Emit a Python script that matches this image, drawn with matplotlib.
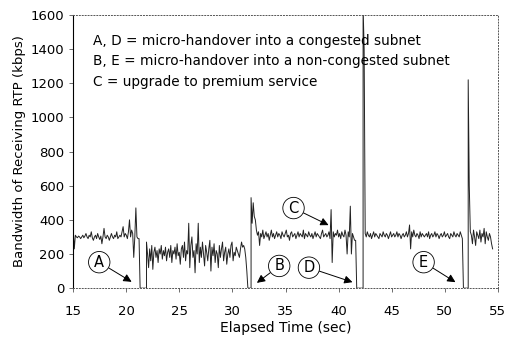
import numpy as np
import matplotlib
matplotlib.use("Agg")
import matplotlib.pyplot as plt

plt.rcParams['font.family'] = ['DejaVu Sans']

# segments of the RTP bandwidth trace (kbps), evenly sampled between start/end times
seg1_span = (15.0, 21.2)
seg1 = [340, 230, 310, 300, 295, 305, 300, 290, 300, 310, 295, 305, 320, 300, 290,
        310, 300, 330, 295, 280, 300, 310, 290, 320, 300, 285, 305, 260, 300, 350,
        300, 290, 310, 300, 280, 300, 320, 300, 290, 310, 300, 330, 290, 300, 310,
        300, 330, 360, 300, 320, 310, 290, 330, 400, 300, 340, 320, 180, 300, 470,
        300, 290, 290]

seg2_span = (21.9, 31.35)
seg2 = [270, 200, 120, 230, 160, 250, 110, 210, 240, 180, 220, 150, 230, 200, 250,
        170, 220, 190, 240, 160, 210, 230, 180, 250, 150, 220, 200, 240, 170, 260,
        190, 210, 140, 230, 250, 180, 270, 160, 220, 200, 380, 120, 250, 300, 180,
        220, 90, 260, 200, 380, 150, 240, 180, 270, 200, 130, 250, 210, 160, 230,
        280, 100, 240, 190, 260, 150, 220, 200, 120, 250, 180, 230, 270, 160, 210,
        240, 140, 200, 230, 180, 250, 270, 160, 210, 190, 240, 220, 200, 180, 230,
        270, 240, 250, 230, 180, 100]

seg3_span = (31.75, 41.6)
seg3 = [530, 380, 500, 420, 400, 340, 310, 330, 250, 320, 300, 340, 290, 310, 330,
        300, 320, 280, 310, 340, 300, 320, 290, 310, 330, 300, 320, 310, 290, 330,
        310, 300, 320, 340, 300, 310, 280, 320, 330, 300, 310, 320, 290, 310, 330,
        300, 320, 310, 300, 340, 290, 320, 310, 300, 330, 310, 300, 320, 290, 310,
        330, 300, 320, 310, 300, 290, 320, 340, 300, 310, 320, 300, 310, 330, 290,
        460, 150, 330, 300, 320, 310, 340, 300, 320, 290, 330, 310, 300, 340, 310,
        200, 330, 300, 480, 200, 320, 300, 280, 280]

seg4_span = (42.3, 51.65)
seg4 = [1650, 1400, 320, 300, 330, 310, 300, 320, 290, 310, 330, 300, 320, 310, 300,
        290, 320, 310, 300, 330, 310, 300, 320, 310, 290, 310, 330, 300, 310, 320,
        300, 310, 330, 300, 320, 310, 290, 310, 320, 300, 310, 330, 300, 320, 370,
        230, 330, 300, 340, 310, 300, 320, 310, 290, 330, 300, 320, 310, 300, 310,
        320, 300, 330, 290, 310, 320, 300, 310, 330, 300, 320, 310, 290, 310, 320,
        300, 310, 330, 300, 310, 320, 300, 290, 320, 310, 300, 330, 310, 300, 320,
        310, 300, 330, 310, 290]

seg5_span = (52.2, 54.5)
seg5 = [1220, 600, 330, 310, 260, 340, 300, 250, 330, 310, 290, 340, 270, 320, 300,
        350, 260, 330, 300, 280, 320, 300, 260, 230]

gap_times = [(21.3, 21.9), (31.45, 31.75), (41.7, 42.3), (51.75, 52.2)]

# annotation labels: letter, circle position, arrow tip
labels = ['A', 'B', 'C', 'D', 'E']
label_xy = [(17.45, 152), (34.4, 130), (35.75, 469), (37.2, 120), (48.0, 152)]
arrow_xy = [(20.5, 37), (32.3, 31), (39.05, 369), (41.3, 35), (51.0, 35)]

legend_lines = ['A, D = micro-handover into a congested subnet',
                'B, E = micro-handover into a non-congested subnet',
                'C = upgrade to premium service']
legend_y = [1450, 1330, 1210]

segs = [(seg1_span, seg1), (seg2_span, seg2), (seg3_span, seg3),
        (seg4_span, seg4), (seg5_span, seg5)]

t_all, v_all = [], []
for i, (span, vals) in enumerate(segs):
    t_all.extend(np.linspace(span[0], span[1], len(vals)))
    v_all.extend(vals)
    if i < len(gap_times):
        g0, g1 = gap_times[i]
        t_all.extend([g0, g1])
        v_all.extend([0, 0])

fig = plt.figure(figsize=(5.05, 3.39), dpi=100)
ax = fig.add_axes([0.145, 0.150, 0.841, 0.806])

ax.plot(t_all, v_all, color='#222222', lw=0.7)

ax.set_xlim(15, 55)
ax.set_ylim(0, 1600)
ax.set_xticks(np.arange(15, 56, 5))
ax.set_yticks(np.arange(0, 1601, 200))
ax.tick_params(labelsize=9.5, length=3, width=0.6, color='#555555')
ax.tick_params(axis='x', pad=9)
ax.set_xlabel('Elapsed Time (sec)', fontsize=10, labelpad=2)
ax.set_ylabel('Bandwidth of Receiving RTP (kbps)', fontsize=9.5, labelpad=3)

for side in ['top', 'right', 'bottom']:
    ax.spines[side].set_linestyle((0, (1, 2)))
    ax.spines[side].set_linewidth(0.7)
    ax.spines[side].set_color('#555555')
ax.spines['left'].set_linewidth(0.8)

for line, y in zip(legend_lines, legend_y):
    ax.text(16.85, y, line, fontsize=9.8, va='center', ha='left')

for lab, xy, tip in zip(labels, label_xy, arrow_xy):
    ax.annotate(lab, xy=tip, xytext=xy, fontsize=10.5, ha='center', va='center',
                bbox=dict(boxstyle='circle,pad=0.22', fc='white', ec='black', lw=0.6),
                arrowprops=dict(arrowstyle='-|>', color='black', lw=0.7,
                                mutation_scale=12, shrinkA=0, shrinkB=0))

fig.savefig('out.png', dpi=100)
